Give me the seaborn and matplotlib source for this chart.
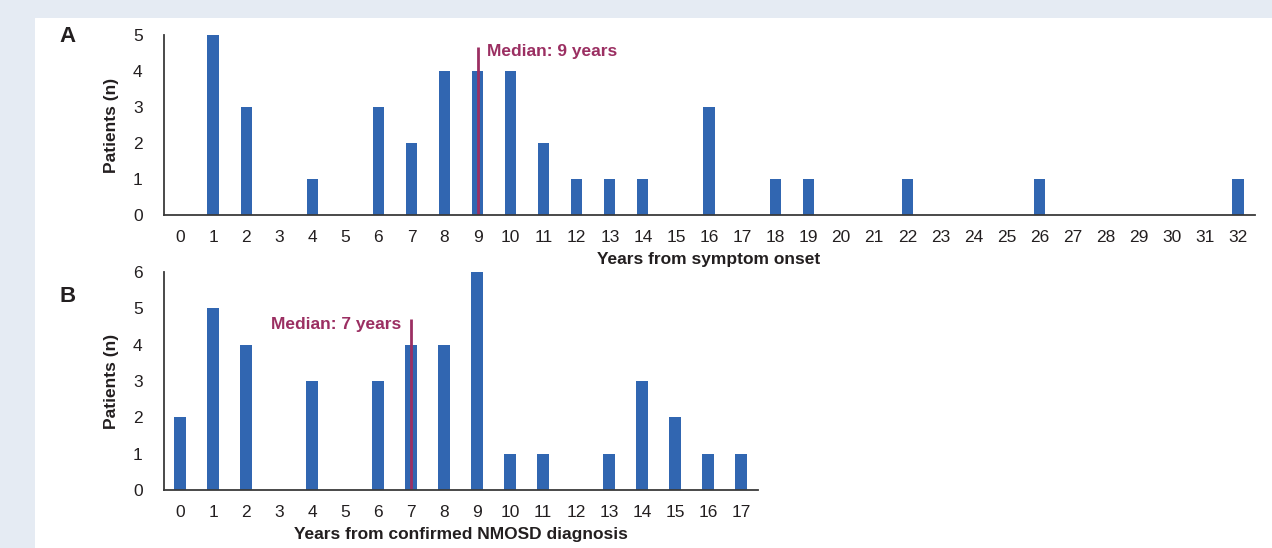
import numpy as np
import pandas as pd
import matplotlib
matplotlib.use("Agg")
import matplotlib.pyplot as plt
import seaborn as sns

# ------ DATA ------ #

years_onset = list(range(0, 33))
patients_onset = [0, 5, 3, 0, 1, 0, 3, 2, 4, 4, 4, 2, 1, 1, 1, 0, 3,
                  0, 1, 1, 0, 0, 1, 0, 0, 0, 1, 0, 0, 0, 0, 0, 1]
median_onset = 9

years_diag = list(range(0, 18))
patients_diag = [2, 5, 4, 0, 3, 0, 3, 4, 4, 6, 1, 1, 0, 1, 3, 2, 1, 1]
median_diag = 7

BAR = "#3166b1"
MED = "#9b2f62"
TXT = "#231f20"
BG = "#e5ebf3"
FS = 12.5

sns.set_style("white")
plt.rcParams['font.family'] = ['Liberation Sans', 'DejaVu Sans']

W, H = 1272, 548
fig = plt.figure(figsize=(W / 100, H / 100), dpi=100, facecolor=BG)

# white panel
panel = fig.add_axes([35 / W, 0, 1 - 35 / W, 1 - 18 / H])
panel.set_axis_off()
panel.add_patch(plt.Rectangle((0, 0), 1, 1, color="white", transform=panel.transAxes))


def px_axes(left, top, right, bottom):
    return fig.add_axes([left / W, 1 - bottom / H, (right - left) / W, (bottom - top) / H])


def draw(ax, years, counts, ymax, xlabel):
    df = pd.DataFrame({"year": [str(y) for y in years], "n": counts})
    sns.barplot(data=df, x="year", y="n", color=BAR, width=0.34, saturation=1,
                linewidth=0, ax=ax)
    ax.set_xlim(-0.5, len(years) - 0.5)
    ax.set_ylim(0, ymax)
    ax.set_yticks(range(0, ymax + 1))
    sns.despine(ax=ax)
    for s in ["left", "bottom"]:
        ax.spines[s].set_color("#3a3a3a")
        ax.spines[s].set_linewidth(1.3)
    ax.tick_params(axis="both", length=0, labelsize=FS, labelcolor=TXT)
    ax.tick_params(axis="y", pad=15)
    ax.tick_params(axis="x", pad=10.5)
    ax.set_xlabel(xlabel, fontsize=FS, fontweight="bold", color=TXT, labelpad=5)
    ax.set_ylabel("Patients (n)", fontsize=FS, fontweight="bold", color=TXT, labelpad=10)
    ax.set_facecolor("none")


# ------ PANEL A ------ #

axA = px_axes(163.5, 35, 1254.5, 215)
draw(axA, years_onset, patients_onset, 5, "Years from symptom onset")
axA.vlines(years_onset.index(median_onset), 0, 4.67, color=MED, linewidth=2)
axA.text(years_onset.index(median_onset) + 0.3, 4.53, f"Median: {median_onset} years",
         color=MED, fontsize=FS, fontweight="bold", va="center", ha="left")

# ------ PANEL B ------ #

axB = px_axes(163.5, 272, 757.5, 490)
draw(axB, years_diag, patients_diag, 6, "Years from confirmed NMOSD diagnosis")
axB.vlines(years_diag.index(median_diag), 0, 4.71, color=MED, linewidth=2)
axB.text(years_diag.index(median_diag) - 0.3, 4.55, f"Median: {median_diag} years",
         color=MED, fontsize=FS, fontweight="bold", va="center", ha="right")

fig.text(68 / W, 1 - 37 / H, "A", fontsize=16, fontweight="bold", color=TXT, ha="center", va="center")
fig.text(68 / W, 1 - 297 / H, "B", fontsize=16, fontweight="bold", color=TXT, ha="center", va="center")

fig.savefig("out.png", dpi=100, facecolor=BG)
